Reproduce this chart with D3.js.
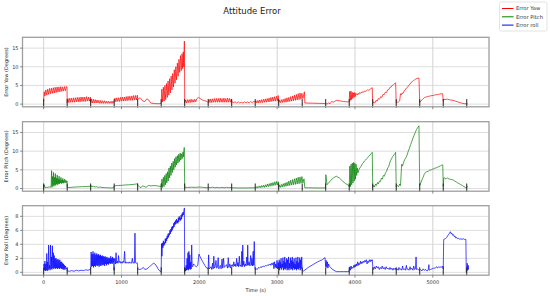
<!DOCTYPE html>
<html>
<head>
<meta charset="utf-8">
<script src="https://cdn.jsdelivr.net/npm/d3@7"></script>
<style>
  body { margin: 0; background: #fff; }
  svg { font-family: "DejaVu Sans", sans-serif; }
</style>
</head>
<body>
<svg id="svg"></svg>
<script>
// tick values
const timeTicks = [0, 1000, 2000, 3000, 4000, 5000];
const yawTicks = [0, 5, 10, 15];
const pitchTicks = [0, 5, 10, 15];
const rollTicks = [0, 2, 4, 6, 8];

// times where a new segment starts (black markers)
const segmentStarts = [0, 302, 604, 906, 1208, 1510, 1812, 2114, 2416, 2718, 3020, 3322, 3624, 3926, 4228, 4530, 4832, 5134, 5436];

// [time (s), error (deg)]
const yawData = [
  [0,0.8],[6,3.3],[16,2.2],[28,3.8],[40,2.4],[52,4.0],[64,2.6],[76,4.2],[88,2.8],[100,4.3],[112,2.9],[124,4.4],[136,3.0],[148,4.5],[160,3.1],[172,4.6],[184,3.2],[196,4.6],[208,3.3],[220,4.7],[232,3.4],[244,4.6],[256,3.5],[268,4.7],[280,3.6],[292,4.7],[300,4.6],
  [302,0.4],[312,1.5],[324,0.4],[336,1.6],[348,0.5],[360,1.6],[372,0.5],[384,1.7],[396,0.5],[408,1.7],[420,0.6],[432,1.8],[444,0.6],[456,1.8],[468,0.6],[480,1.9],[492,0.7],[504,1.9],[516,0.7],[528,1.9],[540,0.7],[552,2.0],[564,0.8],[576,1.9],[588,0.8],[600,1.9],
  [604,0.3],[614,1.4],[626,0.3],[638,1.3],[650,0.3],[662,1.2],[674,0.3],[686,1.1],[698,0.3],[710,1.0],[722,0.2],[734,1.0],[746,0.2],[758,0.9],[770,0.2],[782,0.9],[794,0.2],[806,0.8],[818,0.2],[830,0.8],[842,0.2],[854,0.7],[866,0.2],[878,0.8],[890,0.2],[902,0.7],
  [906,0.6],[916,1.6],[928,0.6],[940,1.7],[952,0.7],[964,1.7],[976,0.7],[988,1.8],[1000,0.8],[1012,1.9],[1024,0.8],[1036,1.9],[1048,0.9],[1060,2.0],[1072,0.9],[1084,2.1],[1096,1.0],[1108,2.1],[1120,1.0],[1132,2.2],[1144,1.0],[1156,2.3],[1168,1.1],[1180,2.3],[1192,1.1],[1204,2.4],
  [1208,1.3],[1240,1.7],[1275,0.8],[1300,0.7],[1325,1.4],[1345,1.2],[1375,0.3],[1420,0.15],[1480,0.1],[1508,0.2],
  [1510,0.5],[1518,4.0],[1528,0.6],[1538,4.5],[1548,0.8],[1558,5.0],[1568,1.2],[1578,5.5],[1588,1.8],[1598,6.2],[1608,2.4],[1618,6.8],[1628,3.0],[1638,7.5],[1648,3.8],[1658,8.2],[1668,4.6],[1678,9.2],[1688,5.6],[1698,10.0],[1708,6.5],[1718,11.0],[1728,7.5],[1738,12.0],[1748,8.5],[1758,13.0],[1768,9.0],[1778,13.5],[1786,9.5],[1794,14.0],[1800,10.0],[1808,16.9],
  [1812,0.4],[1822,1.1],[1834,0.3],[1846,1.2],[1858,0.4],[1870,1.2],[1882,0.4],[1894,1.3],[1906,0.5],[1918,1.2],[1930,0.5],[1942,1.3],[1954,0.6],[1966,1.4],[1990,1.8],[2010,1.5],[2040,1.1],[2070,0.9],[2100,0.7],
  [2114,0.4],[2124,1.3],[2136,0.4],[2148,1.4],[2160,0.4],[2172,1.4],[2184,0.5],[2196,1.5],[2208,0.5],[2220,1.5],[2232,0.5],[2244,1.5],[2256,0.5],[2268,1.6],[2280,0.5],[2292,1.5],[2304,0.5],[2316,1.6],[2328,0.5],[2340,1.5],[2352,0.5],[2364,1.6],[2376,0.5],[2388,1.5],[2400,0.5],[2412,1.4],
  [2416,0.6],[2440,0.4],[2460,0.6],[2480,0.3],[2500,0.6],[2520,0.3],[2540,0.5],[2560,0.3],[2580,0.6],[2600,0.3],[2620,0.6],[2640,0.3],[2660,0.7],[2680,0.4],[2700,0.8],[2714,0.5],
  [2718,0.5],[2728,0.9],[2740,0.3],[2752,1.0],[2764,0.3],[2776,1.1],[2788,0.4],[2800,1.2],[2812,0.4],[2824,1.3],[2836,0.5],[2848,1.4],[2860,0.5],[2872,1.5],[2884,0.6],[2896,1.6],[2908,0.6],[2920,1.8],[2932,0.7],[2944,1.9],[2956,0.8],[2968,2.0],[2980,0.8],[2992,2.1],[3004,0.9],[3014,2.3],
  [3020,0.4],[3030,1.0],[3042,0.4],[3054,1.2],[3066,0.4],[3078,1.3],[3090,0.5],[3102,1.5],[3114,0.5],[3126,1.7],[3138,0.6],[3150,1.8],[3162,0.7],[3174,2.0],[3186,0.8],[3198,2.2],[3210,0.9],[3222,2.4],[3234,1.0],[3246,2.6],[3258,1.1],[3270,2.8],[3282,1.2],[3294,3.0],[3306,1.3],[3318,2.9],[3330,1.5],[3350,3.3],
  [3356,0.3],[3450,0.25],[3550,0.2],[3620,0.15],
  [3624,0.2],[3640,0.0],[3660,0.3],[3680,0.1],[3700,0.7],[3720,0.5],[3760,1.0],[3800,0.9],[3850,0.7],[3900,0.6],[3924,0.6],
  [3926,0.6],[3932,3.4],[3940,1.0],[3948,3.5],[3956,1.2],[3964,3.2],[3972,1.5],[3980,3.0],[3988,1.8],[3996,3.1],[4004,2.0],[4012,2.9],[4030,2.4],[4040,2.9],[4050,2.6],[4060,3.1],[4075,2.9],[4090,3.3],[4105,3.1],[4120,3.5],[4140,3.4],[4160,3.8],[4180,3.7],[4200,4.1],[4222,4.4],
  [4228,0.2],[4240,0.6],[4255,0.3],[4270,1.0],[4285,0.8],[4300,1.5],[4315,1.3],[4330,2.0],[4345,1.8],[4360,2.6],[4375,2.5],[4390,3.2],[4405,3.1],[4420,3.8],[4435,3.9],[4450,4.5],[4465,4.6],[4480,5.0],[4495,5.2],[4510,5.5],[4522,5.7],
  [4530,0.3],[4545,0.5],[4560,0.6],[4575,0.9],[4585,2.8],[4595,2.5],[4605,3.0],[4615,2.8],[4630,3.5],[4645,3.8],[4660,4.3],[4675,4.5],[4690,5.0],[4705,5.3],[4720,5.8],[4735,6.0],[4750,6.3],[4765,6.5],[4780,6.7],[4800,6.9],[4822,7.0],
  [4832,0.4],[4850,0.9],[4870,1.3],[4890,1.7],[4910,1.9],[4930,2.0],[4950,2.1],[4970,2.2],[4990,2.3],[5010,2.3],[5030,2.5],[5050,2.5],[5070,2.6],[5090,2.7],[5110,2.8],[5126,2.8],
  [5134,0.8],[5142,1.4],[5155,1.2],[5170,1.3],[5190,1.3],[5210,1.2],[5230,1.1],[5260,1.0],[5290,0.8],[5320,0.6],[5350,0.4],[5380,0.2],[5410,0.1],[5440,0.1],[5450,0.0]
];

const pitchData = [
  [0,0.2],[8,1.0],[14,0.3],[40,0.3],[70,0.4],[95,0.4],[102,4.8],[108,0.3],[114,3.2],[120,0.8],[126,4.3],[132,0.6],[138,3.0],[144,1.0],[150,4.0],[156,0.8],[162,2.8],[168,1.2],[174,3.6],[180,1.0],[186,2.6],[192,1.3],[198,3.3],[204,1.2],[210,2.4],[216,1.5],[222,3.0],[228,1.3],[234,2.3],[240,1.5],[246,2.7],[252,1.4],[258,2.2],[264,1.6],[270,2.5],[278,1.5],[286,2.2],[294,1.6],[300,2.0],
  [302,0.3],[350,0.3],[400,0.4],[450,0.45],[500,0.5],[550,0.55],[600,0.6],
  [604,0.9],[612,0.5],[640,0.6],[660,0.4],[680,0.5],[700,0.3],[720,0.4],[750,0.3],[780,0.25],[820,0.2],[860,0.15],[900,0.2],
  [906,0.7],[950,0.8],[1000,0.85],[1050,0.95],[1100,1.0],[1150,1.1],[1190,1.2],[1204,1.3],
  [1208,0.9],[1230,0.5],[1250,0.2],[1270,0.7],[1290,0.6],[1315,0.3],[1345,0.8],[1380,0.7],[1420,0.8],[1460,0.7],[1490,0.6],[1506,0.5],
  [1510,0.5],[1520,2.5],[1528,0.3],[1538,3.0],[1546,0.5],[1556,3.5],[1564,1.0],[1574,4.0],[1582,1.5],[1592,4.5],[1600,2.0],[1610,5.5],[1618,2.8],[1628,6.0],[1636,3.5],[1646,6.8],[1654,4.3],[1664,7.3],[1672,5.0],[1682,8.0],[1690,5.7],[1700,8.5],[1708,6.3],[1718,8.8],[1726,6.8],[1736,9.2],[1744,7.2],[1754,9.5],[1762,7.6],[1772,9.3],[1780,8.0],[1790,9.8],[1798,8.5],[1806,11.0],
  [1812,0.3],[1850,0.3],[1900,0.35],[1950,0.3],[2000,0.4],[2050,0.3],[2100,0.2],
  [2114,0.3],[2140,0.25],[2170,0.35],[2200,0.2],[2230,0.3],[2260,0.2],[2290,0.3],[2320,0.2],[2350,0.3],[2380,0.2],[2410,0.3],
  [2416,0.2],[2500,0.15],[2600,0.15],[2700,0.2],
  [2718,0.2],[2730,0.5],[2742,0.1],[2754,0.6],[2766,0.2],[2778,0.7],[2790,0.2],[2802,0.8],[2814,0.3],[2826,0.9],[2838,0.3],[2850,1.0],[2862,0.4],[2874,1.2],[2886,0.5],[2898,1.3],[2910,0.6],[2922,1.5],[2934,0.7],[2946,1.6],[2958,0.8],[2970,1.8],[2982,0.9],[2994,1.9],[3006,1.0],[3016,1.8],
  [3020,0.3],[3030,0.9],[3042,0.3],[3054,1.1],[3066,0.4],[3078,1.3],[3090,0.5],[3102,1.5],[3114,0.6],[3126,1.7],[3138,0.7],[3150,2.0],[3162,0.8],[3174,2.2],[3186,0.9],[3198,2.4],[3210,1.0],[3222,2.6],[3234,1.1],[3246,2.8],[3258,1.2],[3270,3.0],[3282,1.3],[3294,3.1],[3306,1.4],[3318,3.2],[3330,1.5],[3345,2.6],[3355,0.2],
  [3400,0.2],[3500,0.15],[3620,0.15],
  [3626,3.7],[3640,1.0],[3660,1.5],[3690,2.2],[3720,2.8],[3760,3.3],[3800,2.8],[3840,2.0],[3880,1.3],[3920,0.8],
  [3926,0.5],[3934,6.0],[3942,0.5],[3950,6.5],[3958,1.0],[3966,6.8],[3974,1.5],[3982,7.0],[3990,2.0],[3998,6.8],[4006,2.5],[4014,6.5],[4022,3.5],[4030,5.5],[4038,4.2],[4050,5.0],[4062,5.5],[4075,5.8],[4090,6.5],[4105,6.8],[4120,7.3],[4135,7.6],[4150,8.0],[4165,8.3],[4180,8.7],[4195,9.0],[4210,9.4],[4222,9.7],
  [4228,0.3],[4240,0.8],[4250,0.4],[4265,1.2],[4275,0.8],[4290,1.6],[4300,1.2],[4315,2.0],[4325,1.8],[4340,2.8],[4350,2.5],[4365,3.5],[4378,3.3],[4392,4.2],[4405,4.5],[4420,5.5],[4432,5.8],[4445,6.8],[4458,7.5],[4470,8.0],[4485,8.6],[4500,9.0],[4512,9.3],[4522,9.7],
  [4530,0.4],[4545,0.8],[4560,0.5],[4575,1.2],[4585,0.8],[4600,6.5],[4610,6.0],[4625,7.0],[4640,7.8],[4655,8.3],[4670,9.0],[4685,10.0],[4700,10.8],[4715,11.8],[4730,12.6],[4745,13.5],[4760,14.3],[4775,15.0],[4790,15.8],[4805,16.3],[4822,16.8],
  [4832,0.8],[4845,1.5],[4860,2.3],[4875,3.0],[4890,3.8],[4905,4.3],[4920,4.5],[4940,4.6],[4960,4.9],[4980,5.0],[5000,5.2],[5020,5.4],[5040,5.5],[5060,5.7],[5080,5.9],[5100,6.1],[5115,6.3],[5128,6.3],
  [5134,0.6],[5140,2.8],[5150,2.9],[5160,2.6],[5175,2.7],[5190,2.8],[5205,2.6],[5220,2.5],[5240,2.4],[5260,2.3],[5280,2.0],[5300,1.8],[5320,1.5],[5340,1.3],[5360,1.0],[5380,0.8],[5400,0.5],[5420,0.3],[5436,0.2],[5450,0.6]
];

const rollData = [
  [0,0.8],[5,1.2],[10,0.3],[16,1.6],[22,0.2],[28,1.2],[34,0.3],[40,2.7],[46,0.2],[52,1.5],[58,0.3],[64,3.9],[70,0.5],[76,1.0],[82,0.3],[88,3.9],[94,0.5],[100,2.2],[106,0.4],[112,3.8],[118,0.6],[124,2.8],[130,0.5],[136,2.4],[142,0.6],[148,2.0],[154,0.5],[160,2.0],[166,0.6],[172,1.8],[178,0.5],[184,1.9],[190,0.6],[196,1.7],[202,0.5],[208,1.8],[214,0.6],[220,1.5],[226,0.5],[232,1.5],[238,0.5],[244,1.3],[250,0.4],[256,1.2],[262,0.4],[268,1.0],[274,0.4],[280,0.9],[290,0.5],[300,0.6],
  [302,0.2],[330,0.15],[360,0.25],[390,0.15],[420,0.3],[450,0.2],[480,0.3],[510,0.25],[540,0.35],[570,0.3],[600,0.4],
  [604,0.5],[610,2.9],[616,0.8],[622,2.6],[628,0.9],[634,3.0],[640,0.7],[646,2.6],[652,0.9],[658,2.8],[664,0.8],[670,2.5],[676,1.0],[682,2.7],[688,0.9],[694,2.5],[700,1.0],[706,2.6],[712,0.8],[718,2.4],[724,1.0],[730,2.5],[736,0.9],[742,2.3],[748,1.1],[754,2.4],[760,1.0],[766,2.3],[772,1.1],[778,2.2],[784,0.9],[790,2.3],[796,1.2],[802,2.1],[808,1.0],[814,2.2],[820,1.2],[826,2.0],[832,1.1],[838,2.1],[844,1.3],[850,2.0],[856,1.2],[862,2.3],[868,1.3],[874,2.0],[880,1.2],[886,2.2],[892,1.4],[900,2.0],[904,0.3],
  [906,1.5],[915,2.0],[922,1.2],[930,2.8],[938,1.3],[946,1.6],[955,1.3],[962,2.4],[970,1.4],[980,1.6],[990,1.3],[1000,1.5],[1010,1.3],[1020,1.6],[1030,1.4],[1040,3.0],[1048,1.3],[1058,1.5],[1068,1.3],[1078,1.4],[1088,1.3],[1098,1.5],[1108,1.3],[1118,1.4],[1128,1.3],[1140,2.0],[1148,1.3],[1158,1.4],[1166,1.3],[1173,5.6],[1180,1.4],[1190,1.3],[1200,1.4],[1206,1.2],
  [1208,0.5],[1230,0.4],[1260,0.5],[1280,0.7],[1300,0.4],[1330,0.5],[1360,0.8],[1390,1.1],[1410,1.3],[1430,1.2],[1450,0.9],[1470,0.5],[1490,0.2],[1505,0.1],
  [1510,0.2],[1514,4.1],[1520,2.3],[1526,4.2],[1532,3.5],[1538,4.5],[1544,3.8],[1550,4.3],[1556,4.0],[1562,4.8],[1568,4.2],[1574,4.9],[1580,4.5],[1586,5.2],[1592,4.8],[1598,5.5],[1604,5.0],[1610,5.6],[1616,5.3],[1622,6.0],[1628,5.5],[1634,6.2],[1640,5.8],[1646,6.5],[1652,6.0],[1658,6.6],[1664,6.3],[1670,7.0],[1676,6.5],[1682,7.2],[1688,6.8],[1694,7.4],[1700,6.9],[1706,7.6],[1712,7.1],[1718,7.4],[1724,7.0],[1730,7.8],[1736,7.2],[1742,8.0],[1748,7.5],[1754,7.8],[1760,7.4],[1766,8.2],[1772,7.6],[1778,8.4],[1784,8.0],[1790,8.6],[1796,8.2],[1802,8.8],[1808,9.2],
  [1812,0.1],[1818,0.6],[1824,0.2],[1830,1.0],[1836,0.3],[1842,2.0],[1848,0.4],[1854,2.8],[1860,0.3],[1866,3.0],[1872,0.5],[1878,2.5],[1884,0.4],[1890,1.5],[1896,0.5],[1902,3.9],[1908,1.0],[1914,0.8],[1925,1.2],[1940,1.0],[1960,0.8],[1980,1.0],[1995,2.6],[2020,2.0],[2045,1.5],[2070,1.0],[2095,0.6],[2110,0.5],
  [2114,0.6],[2120,2.5],[2126,0.5],[2140,0.6],[2150,0.8],[2160,0.4],[2170,1.3],[2178,0.5],[2186,2.3],[2194,0.6],[2204,0.8],[2214,1.7],[2222,0.6],[2232,0.7],[2242,2.1],[2250,0.5],[2260,0.8],[2270,1.0],[2280,0.5],[2292,1.9],[2300,0.6],[2312,2.0],[2320,0.7],[2335,0.9],[2350,1.1],[2362,0.6],[2372,2.1],[2380,0.7],[2392,1.2],[2404,0.6],[2412,1.0],
  [2416,0.9],[2425,1.1],[2434,0.8],[2443,1.5],[2452,0.9],[2461,1.2],[2470,0.8],[2480,2.0],[2488,0.9],[2496,1.4],[2505,0.8],[2514,2.3],[2522,0.9],[2530,1.0],[2538,0.8],[2546,3.0],[2552,0.8],[2558,3.9],[2564,1.0],[2572,1.6],[2580,0.8],[2590,1.2],[2600,0.9],[2610,2.2],[2616,1.0],[2622,3.9],[2628,1.0],[2640,1.5],[2650,0.9],[2660,2.4],[2668,1.0],[2676,2.0],[2684,0.9],[2692,3.0],[2698,1.0],[2706,4.4],[2712,1.2],
  [2718,0.4],[2730,0.5],[2745,0.4],[2760,0.7],[2775,0.6],[2790,0.8],[2805,0.7],[2820,0.9],[2835,0.8],[2850,1.0],[2865,0.9],[2880,1.1],[2895,1.0],[2910,1.2],[2920,1.0],[2930,1.3],[2940,1.1],[2950,1.4],[2958,0.5],[2966,1.5],[2974,0.7],[2982,1.2],[2990,0.6],[2998,1.7],[3006,0.5],[3014,1.4],
  [3020,0.6],[3026,1.8],[3032,0.3],[3038,1.5],[3044,0.6],[3050,2.0],[3056,0.4],[3062,1.2],[3068,0.7],[3074,2.1],[3080,0.3],[3086,1.6],[3092,0.5],[3098,2.2],[3104,0.4],[3110,1.4],[3116,0.6],[3122,2.0],[3128,0.3],[3134,1.8],[3140,0.5],[3146,2.2],[3152,0.3],[3158,1.3],[3164,0.6],[3170,2.1],[3176,0.4],[3182,1.7],[3188,0.5],[3194,2.2],[3200,0.3],[3206,1.5],[3212,0.6],[3218,2.0],[3224,0.4],[3230,1.2],[3236,0.5],[3242,2.1],[3248,0.3],[3254,1.6],[3260,0.5],[3266,2.2],[3272,0.4],[3278,1.4],[3284,0.6],[3290,2.1],[3296,0.3],[3302,1.8],[3308,0.5],[3316,2.2],
  [3322,0.2],[3340,0.2],[3400,0.7],[3460,1.1],[3520,1.5],[3580,1.8],[3615,2.1],
  [3624,0.8],[3630,1.7],[3638,0.7],[3646,1.5],[3652,0.6],[3660,1.2],[3668,0.9],[3680,0.8],[3700,0.5],[3730,0.3],[3760,0.1],[3800,0.1],[3850,0.1],[3900,0.1],[3922,0.1],
  [3926,0.3],[3935,0.8],[3942,0.3],[3950,0.9],[3958,0.5],[3966,0.7],[3975,0.6],[3985,1.0],[3992,0.7],[4000,1.1],[4008,0.8],[4016,1.2],[4025,0.9],[4035,1.5],[4042,1.0],[4050,1.3],[4060,1.1],[4070,1.6],[4078,1.2],[4088,1.5],[4096,1.3],[4106,1.6],[4115,1.4],[4125,1.7],[4135,1.5],[4145,1.8],[4155,1.2],[4165,1.6],[4175,1.4],[4185,1.8],[4195,1.5],[4205,1.8],[4215,1.6],[4222,1.8],
  [4228,0.8],[4240,0.4],[4250,0.8],[4262,0.5],[4275,0.9],[4288,0.6],[4300,0.8],[4312,0.4],[4325,0.7],[4338,0.5],[4350,0.9],[4362,0.5],[4375,0.7],[4388,0.4],[4400,0.8],[4412,0.5],[4425,0.6],[4438,0.4],[4450,0.7],[4462,0.4],[4475,0.6],[4488,0.3],[4500,0.6],[4512,0.4],[4524,0.6],
  [4530,0.3],[4545,0.5],[4555,0.3],[4565,0.7],[4575,0.4],[4590,0.5],[4600,0.3],[4612,0.9],[4620,0.4],[4635,0.5],[4648,0.3],[4660,1.0],[4668,0.4],[4680,0.5],[4695,0.3],[4708,0.8],[4716,0.4],[4730,0.6],[4745,0.3],[4755,0.9],[4765,0.4],[4778,0.5],[4785,2.2],[4790,0.4],[4805,0.5],[4820,0.3],
  [4832,0.3],[4845,0.4],[4860,0.2],[4875,0.5],[4890,0.3],[4910,0.4],[4925,0.2],[4940,0.3],[4950,1.1],[4955,0.3],[4970,0.4],[4990,0.5],[5010,0.6],[5030,0.6],[5050,0.8],[5060,0.6],[5075,0.8],[5090,0.7],[5105,0.8],[5120,0.7],[5130,0.9],
  [5134,0.5],[5140,4.7],[5160,4.8],[5180,5.0],[5195,5.3],[5210,5.5],[5225,5.8],[5235,5.5],[5245,5.6],[5255,5.3],[5265,5.4],[5275,5.1],[5285,5.2],[5295,4.9],[5305,5.0],[5315,4.8],[5330,4.9],[5345,4.7],[5360,4.8],[5375,4.7],[5390,4.8],[5410,4.7],[5425,4.7],[5430,0.0],[5438,0.2],[5442,1.3],[5448,0.3],[5455,1.0],[5460,0.4]
];

const seriesNames = ['Error Yaw', 'Error Pitch', 'Error roll'];
const seriesColors = ['#ff0000', '#008000', '#0000ff'];
const axisLabels = ['Error Yaw (Degrees)', 'Error Pitch (Degrees)', 'Error Roll (Degrees)'];

// layout
const width = 550;
const height = 296;
const plotLeft = 22.5;
const plotRight = 489;
const panelTops = [37.3, 121.7, 205.7];
const panelHeight = 69.5;

const svg = d3.select('#svg')
  .attr('width', width)
  .attr('height', height);

svg.append('rect')
  .attr('width', width)
  .attr('height', height)
  .attr('fill', '#fff');

const xScale = d3.scaleLinear()
  .domain([-272, 5722])
  .range([plotLeft, plotRight]);

const panels = [
  { data: yawData, ticks: yawTicks, domain: [-0.72, 17.9] },
  { data: pitchData, ticks: pitchTicks, domain: [-0.72, 17.9] },
  { data: rollData, ticks: rollTicks, domain: [-0.41, 9.52] }
];

// TITLE
svg.append('text')
  .attr('x', 252)
  .attr('y', 14)
  .attr('text-anchor', 'middle')
  .attr('font-size', '8.5px')
  .attr('fill', '#222')
  .text('Attitude Error');

panels.forEach((p, i) => {
  const top = panelTops[i];
  const bottom = top + panelHeight;
  const yScale = d3.scaleLinear()
    .domain(p.domain)
    .range([bottom, top]);

  const g = svg.append('g');

  // clip
  const clipId = `clip${i}`;
  svg.append('clipPath').attr('id', clipId)
    .append('rect')
    .attr('x', plotLeft).attr('y', top)
    .attr('width', plotRight - plotLeft).attr('height', panelHeight);

  // GRID
  g.selectAll('.vgrid')
    .data(timeTicks)
    .enter()
    .append('line')
    .attr('x1', d => xScale(d)).attr('x2', d => xScale(d))
    .attr('y1', top).attr('y2', bottom)
    .attr('stroke', '#c8c8c8')
    .attr('stroke-width', 0.8);

  g.selectAll('.hgrid')
    .data(p.ticks)
    .enter()
    .append('line')
    .attr('x1', plotLeft).attr('x2', plotRight)
    .attr('y1', d => yScale(d)).attr('y2', d => yScale(d))
    .attr('stroke', '#d4d4d4')
    .attr('stroke-width', 0.8);

  // LINE
  const line = d3.line()
    .x(d => xScale(d[0]))
    .y(d => yScale(d[1]));

  g.append('path')
    .datum(p.data)
    .attr('clip-path', `url(#${clipId})`)
    .attr('d', line)
    .attr('fill', 'none')
    .attr('stroke', seriesColors[i])
    .attr('stroke-width', 0.7)
    .attr('stroke-linejoin', 'round');

  // SEGMENT MARKERS
  g.selectAll('.marker')
    .data(segmentStarts)
    .enter()
    .append('line')
    .attr('x1', d => xScale(d)).attr('x2', d => xScale(d))
    .attr('y1', yScale(0) - 5)
    .attr('y2', Math.min(yScale(0) + 3.5, bottom + 1))
    .attr('stroke', '#222')
    .attr('stroke-width', 1);

  // FRAME
  g.append('rect')
    .attr('x', plotLeft).attr('y', top)
    .attr('width', plotRight - plotLeft).attr('height', panelHeight)
    .attr('fill', 'none')
    .attr('stroke', '#9e9e9e')
    .attr('stroke-width', 1.3);

  // Y AXIS ticks + labels
  const yAxis = g.append('g');
  yAxis.selectAll('line')
    .data(p.ticks)
    .enter()
    .append('line')
    .attr('x1', plotLeft - 2.5).attr('x2', plotLeft)
    .attr('y1', d => yScale(d)).attr('y2', d => yScale(d))
    .attr('stroke', '#444')
    .attr('stroke-width', 0.6);
  yAxis.selectAll('text')
    .data(p.ticks)
    .enter()
    .append('text')
    .attr('x', plotLeft - 4)
    .attr('y', d => yScale(d))
    .attr('dy', '0.35em')
    .attr('text-anchor', 'end')
    .attr('font-size', '5px')
    .attr('fill', '#333')
    .text(d => d);

  // X AXIS ticks
  g.selectAll('.xtick')
    .data(timeTicks)
    .enter()
    .append('line')
    .attr('x1', d => xScale(d)).attr('x2', d => xScale(d))
    .attr('y1', bottom).attr('y2', bottom + 2.5)
    .attr('stroke', '#444')
    .attr('stroke-width', 0.6);

  if (i === panels.length - 1) {
    g.selectAll('.xlabel')
      .data(timeTicks)
      .enter()
      .append('text')
      .attr('x', d => xScale(d))
      .attr('y', bottom + 8.5)
      .attr('text-anchor', 'middle')
      .attr('font-size', '5px')
      .attr('fill', '#333')
      .text(d => d);

    svg.append('text')
      .attr('x', (plotLeft + plotRight) / 2)
      .attr('y', 292)
      .attr('text-anchor', 'middle')
      .attr('font-size', '5px')
      .attr('fill', '#222')
      .text('Time (s)');
  }

  // Y AXIS LABEL
  svg.append('text')
    .attr('transform', `translate(8, ${top + panelHeight / 2}) rotate(-90)`)
    .attr('text-anchor', 'middle')
    .attr('font-size', '5px')
    .attr('fill', '#222')
    .text(axisLabels[i]);
});

// LEGEND
const legend = svg.append('g');
legend.append('rect')
  .attr('x', 499.5).attr('y', 2)
  .attr('width', 47.5).attr('height', 29)
  .attr('rx', 1.5)
  .attr('fill', '#fff')
  .attr('stroke', '#d0d0d0')
  .attr('stroke-width', 0.6);

seriesNames.forEach((name, i) => {
  const y = 8.5 + i * 8.3;
  legend.append('line')
    .attr('x1', 502).attr('x2', 513.5)
    .attr('y1', y).attr('y2', y)
    .attr('stroke', seriesColors[i])
    .attr('stroke-width', 1);
  legend.append('text')
    .attr('x', 516)
    .attr('y', y)
    .attr('dy', '0.35em')
    .attr('font-size', '5.2px')
    .attr('fill', '#333')
    .text(name);
});
</script>
</body>
</html>
